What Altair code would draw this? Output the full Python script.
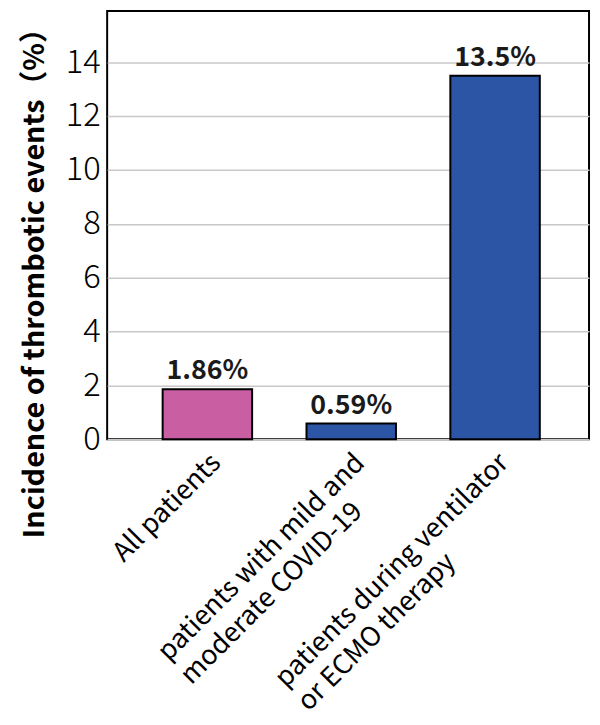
import altair as alt
import pandas as pd

categories = [
    "All patients",
    "patients with mild and|moderate COVID-19",
    "patients during ventilator|or ECMO therapy",
]
values = [1.86, 0.59, 13.5]
value_labels = ["1.86%", "0.59%", "13.5%"]
bar_colors = ["#C95EA3", "#2C55A5", "#2C55A5"]
y_ticks = [0, 2, 4, 6, 8, 10, 12, 14]
y_title = "Incidence of thrombotic events（%）"

# pad shorter second lines so that line starts align (left-aligned look);
# a zero-width space keeps Vega from trimming the padding
pad = {1: 6, 2: 18}
display = []
for i, c in enumerate(categories):
    if i in pad:
        a, b = c.split("|")
        display.append(a + "|" + b + "\u00a0" * pad[i] + "\u200b")
    else:
        display.append(c)

df = pd.DataFrame({
    "category": display,
    "value": values,
    "label": value_labels,
    "color": bar_colors,
})

FONT = "Noto Sans CJK JP"

x = alt.X(
    "category:N",
    sort=display,
    scale=alt.Scale(paddingInner=0.378, paddingOuter=0.364, align=0.53),
    axis=alt.Axis(
        title=None,
        labelAngle=-45,
        labelExpr="split(datum.label, '|')",
        labelFont=FONT,
        labelFontSize=27,
        labelLineHeight=33,
        labelColor="black",
        labelPadding=10,
        ticks=False,
        domain=False,
        labelLimit=1000,
    ),
)

y = alt.Y(
    "value:Q",
    scale=alt.Scale(domain=[0, 15.9], nice=False),
    axis=alt.Axis(
        values=y_ticks,
        title=y_title,
        titleFont=FONT,
        titleFontSize=29,
        titleFontWeight="bold",
        titleColor="black",
        titleX=-64,
        titleY=267,
        titleAlign="center",
        titleBaseline="alphabetic",
        titleAngle=270,
        labelFont=FONT,
        labelFontSize=33,
        labelFontWeight=300,
        labelColor="black",
        labelPadding=7,
        ticks=False,
        domain=False,
        grid=True,
        gridColor="#c8c8c8",
        gridWidth=1.5,
    ),
)

bars = alt.Chart(df).mark_bar(stroke="black", strokeWidth=2).encode(
    x=x,
    y=y,
    color=alt.Color("color:N", scale=None),
)

texts = alt.Chart(df).mark_text(
    font=FONT, fontSize=27, fontWeight="bold", dy=-10, baseline="alphabetic", color="#1a1a1a"
).encode(
    x=alt.X("category:N", sort=display),
    y=alt.Y("value:Q"),
    text="label:N",
)

chart = (
    alt.layer(bars, texts)
    .properties(
        width=486,
        height=432,
        autosize=alt.AutoSizeParams(type="none"),
        padding={"left": 100, "top": 0, "right": 3, "bottom": 277},
    )
    .configure(background="white")
    .configure_view(stroke="black", strokeWidth=2)
)

chart.save("out.html", embed_options={"renderer": "svg", "actions": False})
